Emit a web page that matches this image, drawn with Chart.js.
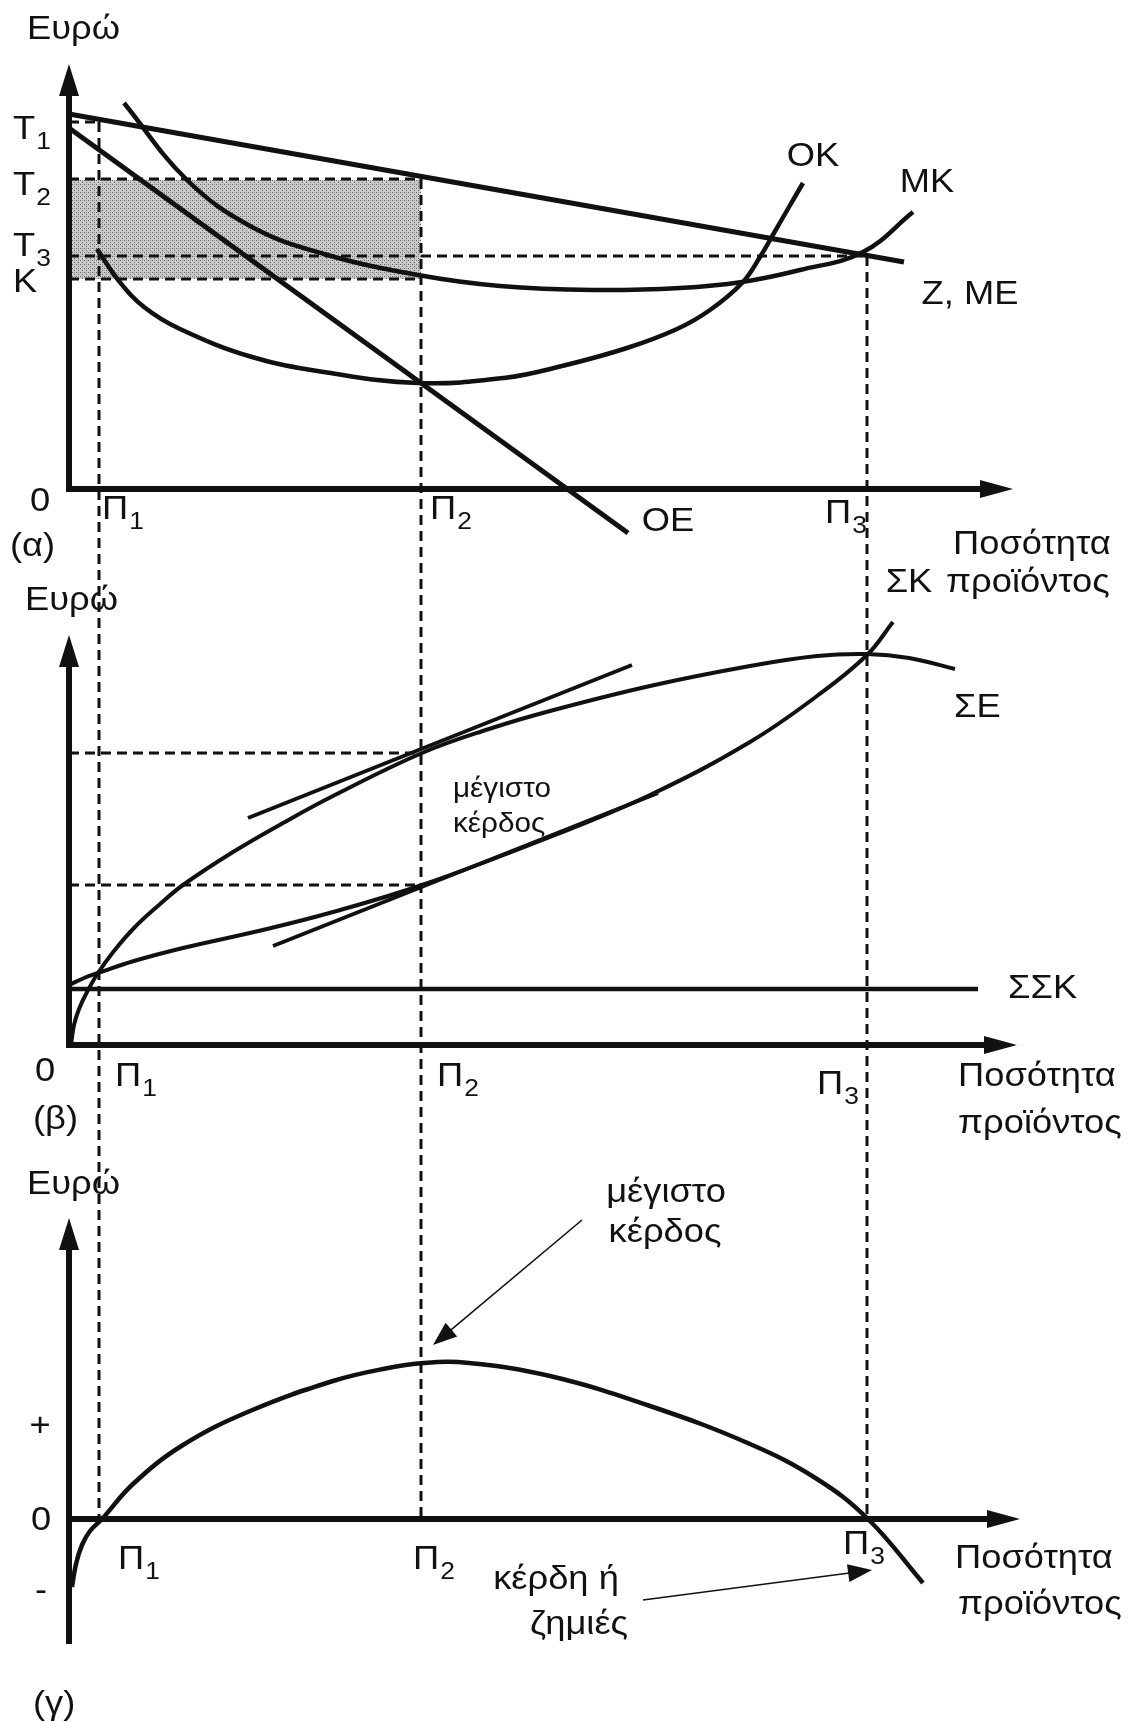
<!DOCTYPE html>
<html>
<head>
<meta charset="utf-8">
<script src="https://cdn.jsdelivr.net/npm/chart.js@4.4.1/dist/chart.umd.min.js"></script>
<style>
  html, body { margin: 0; padding: 0; background: #fff; }
  canvas { display: block; }
</style>
</head>
<body>
<canvas id="diagram" width="1130" height="1722"></canvas>
<script>
// quantities on the shared horizontal axis
const Q1 = 3.0, Q2 = 35.2, Q3 = 79.8;

// (α) price / cost levels on the vertical axis
const T1 = 36.7, T2 = 31.0, T3 = 23.3, K = 21.0;

// (α) per-unit curves
const demandME = [[0, 37.5], [83.5, 22.7]];
const marginalRevenueOE = [[0, 36.1], [55.9, -4.4]];
const averageCostMK = [
  [5.5, 38.6], [11.8, 30.9], [18.3, 26.2], [25.5, 23.5], [34.9, 21.4], [43.1, 20.3],
  [52.4, 19.9], [61.1, 20.1], [67.3, 20.7], [73.1, 21.9], [79.4, 23.7], [84.4, 27.7]
];
const marginalCostOK = [
  [2.8, 24.0], [5.0, 20.8], [7.5, 18.2], [11.1, 16.0], [18.3, 13.2], [25.5, 11.7],
  [34.9, 10.6], [43.5, 11.1], [49.3, 12.3], [55.8, 14.1], [60.8, 16.0], [64.1, 17.9],
  [67.3, 20.6], [69.1, 23.2], [70.5, 25.6], [72.0, 28.2], [73.4, 30.6]
];

// (β) totals
const totalRevenueSE = [
  [0.2, 0], [0.5, 2.0], [1.0, 3.6], [1.8, 5.3], [2.9, 7.2], [4.5, 9.4], [6.5, 11.7],
  [9.0, 14.0], [11.4, 16.0], [16.4, 19.3], [21.4, 22.2], [26.4, 24.9], [35.3, 29.2],
  [42.0, 31.6], [48.1, 33.4], [58.1, 35.9], [68.1, 37.9], [74.8, 38.9], [79.8, 39.1],
  [84.0, 38.7], [88.6, 37.6]
];
const totalCostSK = [
  [0, 6.0], [1.5, 6.7], [2.9, 7.2], [6.5, 8.4], [11.4, 9.7], [19.8, 11.6], [26.4, 13.3],
  [35.3, 16.0], [48.1, 20.8], [58.1, 25.0], [68.1, 30.3], [74.8, 34.9], [79.8, 39.0], [82.4, 42.3]
];
const fixedCostSSK = [[0, 5.6], [90.9, 5.6]];
const tangentSE = [[17.9, 22.7], [56.3, 38.0]];
const tangentSK = [[20.4, 9.9], [58.9, 25.2]];
const SE_AT_Q2 = 29.2, SK_AT_Q2 = 16.0;

// (γ) profit
const profit = [
  [0.3, -6.8], [0.7, -4.5], [1.3, -2.6], [2.1, -1.2], [3.3, 0], [6.4, 3.5], [11.4, 7.4],
  [18.1, 10.8], [26.4, 13.8], [31.4, 15.0], [35.5, 15.6], [40.0, 15.6], [48.1, 14.3],
  [58.1, 11.3], [68.1, 7.5], [74.8, 4.0], [79.9, 0], [85.4, -6.4]
];

const INK = "#111";
const FONT = '"Liberation Sans", Arial, sans-serif';

const pts = (arr) => arr.map(([x, y]) => ({ x, y }));

function curve(data, axis, width) {
  return {
    data: pts(data), yAxisID: axis, borderColor: INK, borderWidth: width || 4.5,
    pointRadius: 0, tension: 0.4, fill: false, clip: false, order: 1
  };
}
function dashed(data, axis) {
  return {
    data: pts(data), yAxisID: axis, borderColor: INK, borderWidth: 3,
    borderDash: [10, 6], pointRadius: 0, fill: false, clip: false, order: 2
  };
}

// stippled grey for the profit rectangle
function stipple() {
  const c = document.createElement("canvas");
  c.width = 4; c.height = 4;
  const g = c.getContext("2d");
  g.fillStyle = "#cacaca";
  g.fillRect(0, 0, 4, 4);
  g.fillStyle = "#666";
  g.fillRect(0, 0, 1, 1);
  g.fillRect(2, 2, 1, 1);
  g.fillStyle = "#999";
  g.fillRect(2, 0, 1, 1);
  return g.createPattern(c, "repeat");
}

// per panel: axis extents
const panelAxes = [
  { y: "yA", yFrom: 0, yTo: 42.5, xTo: 94.4 },
  { y: "yB", yFrom: 0, yTo: 41.0, xTo: 94.8 },
  { y: "yC", yFrom: -12.5, yTo: 30.1, xTo: 95.1 }
];

// dashed guides running down through all three panels
const guides = [
  { x: Q1, from: T1 },
  { x: Q2, from: T2 },
  { x: Q3, from: T3 }
];

const texts = [
  { t: "Ευρώ", y: "yA", x: -4.2, v: 45.9 },
  { t: "T", sub: "1", y: "yA", x: -5.6, v: 35.9 },
  { t: "T", sub: "2", y: "yA", x: -5.6, v: 30.3 },
  { t: "T", sub: "3", y: "yA", x: -5.6, v: 24.2 },
  { t: "K", y: "yA", x: -5.6, v: 20.6 },
  { t: "0", y: "yA", x: -2.9, v: -1.3, align: "center" },
  { t: "(α)", y: "yA", x: -5.9, v: -5.8 },
  { t: "Π", sub: "1", y: "yA", x: 3.3, v: -2.1 },
  { t: "Π", sub: "2", y: "yA", x: 36.1, v: -2.1 },
  { t: "Π", sub: "3", y: "yA", x: 75.6, v: -2.5 },
  { t: "ΟΕ", y: "yA", x: 59.9, v: -3.3, align: "center" },
  { t: "ΟΚ", y: "yA", x: 74.4, v: 33.2, align: "center" },
  { t: "ΜΚ", y: "yA", x: 85.8, v: 30.6, align: "center" },
  { t: "Z, ΜΕ", y: "yA", x: 90.1, v: 19.4, align: "center" },
  { t: "Ποσότητα", y: "yA", x: 88.4, v: -5.6 },
  { t: "προϊόντος", y: "yA", x: 87.7, v: -9.4 },
  { t: "ΣΚ", y: "yB", x: 84.0, v: 46.2, align: "center" },

  { t: "Ευρώ", y: "yB", x: -4.4, v: 44.4 },
  { t: "0", y: "yB", x: -2.4, v: -2.7, align: "center" },
  { t: "Π", sub: "1", y: "yB", x: 4.6, v: -3.2 },
  { t: "Π", sub: "2", y: "yB", x: 36.8, v: -3.2 },
  { t: "Π", sub: "3", y: "yB", x: 74.8, v: -4.0 },
  { t: "ΣΕ", y: "yB", x: 88.5, v: 33.7 },
  { t: "ΣΣΚ", y: "yB", x: 93.9, v: 5.6 },
  { t: "μέγιστο", y: "yB", x: 38.4, v: 25.5, size: 27 },
  { t: "κέρδος", y: "yB", x: 38.4, v: 22.0, size: 27 },
  { t: "Ποσότητα", y: "yB", x: 88.9, v: -3.2 },
  { t: "προϊόντος", y: "yB", x: 88.9, v: -7.9 },
  { t: "(β)", y: "yB", x: -3.6, v: -7.5 },

  { t: "Ευρώ", y: "yC", x: -4.2, v: 33.4 },
  { t: "+", y: "yC", x: -2.9, v: 9.2, align: "center" },
  { t: "0", y: "yC", x: -2.8, v: -0.2, align: "center" },
  { t: "-", y: "yC", x: -2.8, v: -7.3, align: "center" },
  { t: "Π", sub: "1", y: "yC", x: 4.9, v: -4.1 },
  { t: "Π", sub: "2", y: "yC", x: 34.4, v: -4.1 },
  { t: "Π", sub: "3", y: "yC", x: 77.4, v: -2.6 },
  { t: "μέγιστο", y: "yC", x: 59.7, v: 32.6, align: "center" },
  { t: "κέρδος", y: "yC", x: 59.6, v: 28.6, align: "center" },
  { t: "κέρδη ή", y: "yC", x: 48.7, v: -6.1, align: "center" },
  { t: "ζημιές", y: "yC", x: 51.0, v: -10.6, align: "center" },
  { t: "Ποσότητα", y: "yC", x: 88.6, v: -4.0 },
  { t: "προϊόντος", y: "yC", x: 88.9, v: -8.6 },
  { t: "(γ)", y: "yC", x: -3.6, v: -18.6 }
];

const pointers = [
  { y: "yC", from: [51.3, 29.9], to: [36.4, 17.4] },
  { y: "yC", from: [57.4, -8.1], to: [80.3, -5.1] }
];

function arrowHead(ctx, tx, ty, dx, dy, len, half) {
  const bx = tx - dx * len, by = ty - dy * len;
  ctx.beginPath();
  ctx.moveTo(tx, ty);
  ctx.lineTo(bx - dy * half, by + dx * half);
  ctx.lineTo(bx + dy * half, by - dx * half);
  ctx.closePath();
  ctx.fill();
}

function drawText(ctx, l, px, py) {
  const size = l.size || 33;
  ctx.save();
  ctx.translate(px, py);
  ctx.scale(1.1, 1);
  ctx.font = size + "px " + FONT;
  ctx.textBaseline = "middle";
  ctx.textAlign = l.align || "left";
  ctx.fillText(l.t, 0, 0);
  if (l.sub) {
    const w = ctx.measureText(l.t).width;
    ctx.font = Math.round(size * 0.72) + "px " + FONT;
    ctx.textAlign = "left";
    ctx.fillText(l.sub, w + 1, size * 0.36);
  }
  ctx.restore();
}

const diagramPlugin = {
  id: "diagram",
  afterDatasetsDraw(chart) {
    const { ctx, scales } = chart;
    const x = scales.x;
    ctx.save();
    ctx.strokeStyle = INK;
    ctx.fillStyle = INK;

    // guides
    ctx.lineWidth = 3;
    ctx.setLineDash([10, 6]);
    guides.forEach((g) => {
      const px = x.getPixelForValue(g.x);
      ctx.beginPath();
      ctx.moveTo(px, scales.yA.getPixelForValue(g.from));
      ctx.lineTo(px, scales.yC.getPixelForValue(0));
      ctx.stroke();
    });
    ctx.setLineDash([]);

    // axes with arrows
    panelAxes.forEach((a) => {
      const y = scales[a.y];
      const x0 = x.getPixelForValue(0);
      const y0 = y.getPixelForValue(0);
      const yb = y.getPixelForValue(a.yFrom);
      const yt = y.getPixelForValue(a.yTo);
      const xr = x.getPixelForValue(a.xTo);
      ctx.lineWidth = 6;
      ctx.beginPath();
      ctx.moveTo(x0, yb + (a.yFrom === 0 ? 3 : 0));
      ctx.lineTo(x0, yt + 20);
      ctx.stroke();
      ctx.beginPath();
      ctx.moveTo(x0 - 3, y0);
      ctx.lineTo(xr - 20, y0);
      ctx.stroke();
      arrowHead(ctx, x0, yt, 0, -1, 32, 10);
      arrowHead(ctx, xr, y0, 1, 0, 33, 9);
    });

    // pointer arrows
    ctx.lineWidth = 1.6;
    pointers.forEach((p) => {
      const y = scales[p.y];
      const fx = x.getPixelForValue(p.from[0]), fy = y.getPixelForValue(p.from[1]);
      const tx = x.getPixelForValue(p.to[0]), ty = y.getPixelForValue(p.to[1]);
      const d = Math.hypot(tx - fx, ty - fy);
      const ux = (tx - fx) / d, uy = (ty - fy) / d;
      ctx.beginPath();
      ctx.moveTo(fx, fy);
      ctx.lineTo(tx - ux * 15, ty - uy * 15);
      ctx.stroke();
      arrowHead(ctx, tx, ty, ux, uy, 24, 9);
    });

    // texts
    texts.forEach((l) => {
      drawText(ctx, l, x.getPixelForValue(l.x), scales[l.y].getPixelForValue(l.v));
    });
    ctx.restore();
  }
};

// scales: x value 0 sits on the vertical axes, 10 px per unit
const X_MIN = -6.9, X_MAX = 106.1;

new Chart(document.getElementById("diagram"), {
  type: "line",
  data: {
    datasets: [
      // shaded profit rectangle in (α)
      {
        data: pts([[0, 30.9], [Q2, 30.9]]), yAxisID: "yA", borderWidth: 0,
        borderColor: "rgba(0,0,0,0)", backgroundColor: stipple(),
        fill: { value: K }, pointRadius: 0, order: 5
      },
      dashed([[0, T1], [Q1, T1]], "yA"),
      dashed([[0, T2], [Q2, T2]], "yA"),
      dashed([[0, K], [Q2, K]], "yA"),
      dashed([[0, T3], [Q3, T3]], "yA"),
      curve(demandME, "yA", 5),
      curve(marginalRevenueOE, "yA", 5),
      curve(averageCostMK, "yA", 4.5),
      curve(marginalCostOK, "yA", 4.5),

      dashed([[0, SE_AT_Q2], [Q2, SE_AT_Q2]], "yB"),
      dashed([[0, SK_AT_Q2], [Q2, SK_AT_Q2]], "yB"),
      curve(totalRevenueSE, "yB", 4),
      curve(totalCostSK, "yB", 4),
      curve(fixedCostSSK, "yB", 4.5),
      curve(tangentSE, "yB", 4),
      curve(tangentSK, "yB", 4),

      curve(profit, "yC", 4.5)
    ]
  },
  options: {
    responsive: false,
    animation: false,
    events: [],
    layout: { padding: 0 },
    plugins: { legend: { display: false }, tooltip: { enabled: false } },
    scales: {
      x: { type: "linear", min: X_MIN, max: X_MAX, display: false },
      yA: { type: "linear", min: -123.3, max: 48.9, display: false },
      yB: { type: "linear", min: -67.7, max: 104.5, display: false },
      yC: { type: "linear", min: -20.3, max: 151.9, display: false }
    }
  },
  plugins: [diagramPlugin]
});
</script>
</body>
</html>
